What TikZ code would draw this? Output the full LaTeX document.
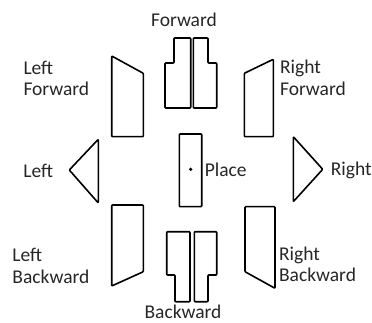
\documentclass[tikz,border=0pt]{standalone}
\usepackage{fontspec}
\setmainfont{Carlito}
\begin{document}
\begin{tikzpicture}[x=1pt, y=1pt, line width=1.6pt, line join=round, rounded corners=0.8pt,
  every node/.style={font=\fontsize{19.5}{21.7}\selectfont, inner sep=0pt, text=black!85}]
\useasboundingbox (0,0) rectangle (372,-323);
% forward
\draw [black] (174,-38) -- (190.7,-38) -- (190.7,-108) -- (165,-108) -- (165,-63) -- (174,-63) -- cycle;
\draw [black] (193.3,-38) -- (208,-38) -- (208,-63) -- (216.7,-63) -- (216.7,-108) -- (193.3,-108) -- cycle;
\node (fwd) [anchor=base] at (184,-26.7) {Forward};
% left forward / right forward
\draw [black] (111.7,-56) -- (143.3,-73.3) -- (143.3,-136.7) -- (111.7,-136.7) -- cycle;
\node (lfwd) [anchor=base west, align=left] at (22.7,-96) {Left\\Forward};
\draw [black] (273.3,-59.3) -- (244.3,-73.3) -- (244.3,-136.7) -- (273.3,-136.7) -- cycle;
\node (rfwd) [anchor=base west, align=left] at (279.3,-95.7) {Right\\Forward};
% left / place / right
\draw [black] (98.3,-139.3) -- (69.3,-170) -- (98.3,-203) -- cycle;
\node (left) [anchor=base] at (38.3,-178) {Left};
\draw [black] (179.3,-134) rectangle (201.7,-206.7);
\fill [black] (190.7,-169.3) circle (1.8);
\node (place) [anchor=base west] at (204,-177) {Place};
\draw [black] (293.3,-136.7) -- (322.7,-169.3) -- (293.3,-201.7) -- cycle;
\node (right) [anchor=base west] at (330,-176) {Right};
% left backward / right backward
\draw [black] (111.7,-205) -- (143.3,-205) -- (143.3,-271.7) -- (111.7,-286) -- cycle;
\node (lbwd) [anchor=base west, align=left] at (11.7,-283.3) {Left\\Backward};
\draw [black] (245,-206.7) -- (275,-206.7) -- (275,-288.3) -- (245,-271.7) -- cycle;
\node (rbwd) [anchor=base west, align=left] at (278.3,-281.7) {Right\\Backward};
% backward
\draw [black] (166.7,-231.7) -- (190,-231.7) -- (190,-301.7) -- (175,-301.7) -- (175,-275) -- (166.7,-275) -- cycle;
\draw [black] (194.3,-231.7) -- (216.7,-231.7) -- (216.7,-275) -- (208,-275) -- (208,-301.7) -- (194.3,-301.7) -- cycle;
\node (bwd) [anchor=base] at (183,-318) {Backward};
\end{tikzpicture}
\end{document}
